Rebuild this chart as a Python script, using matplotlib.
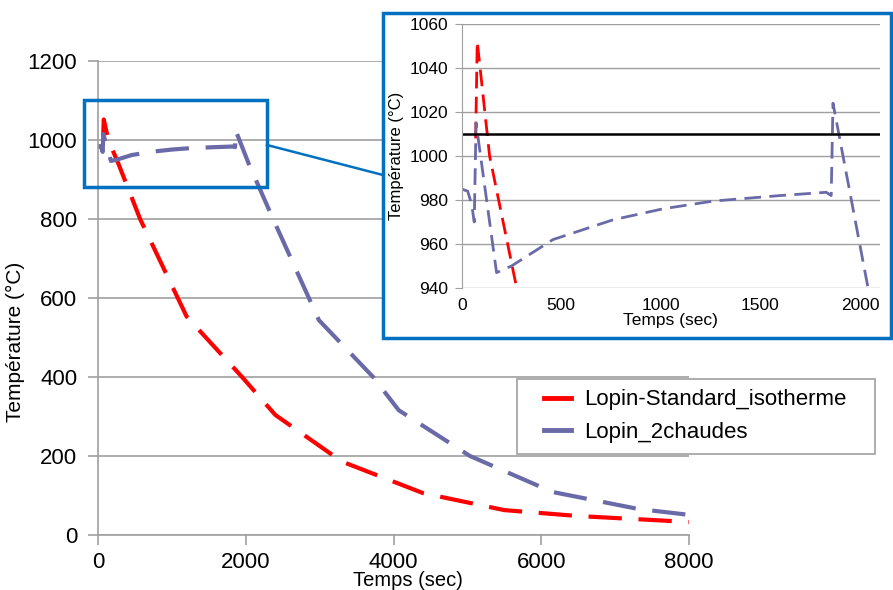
import numpy as np
import matplotlib.pyplot as plt
from matplotlib.patches import Rectangle
from matplotlib.lines import Line2D

plt.rcParams['font.family'] = ['Liberation Sans', 'DejaVu Sans']

# Lopin-Standard_isotherme (time in s, temperature in degC)
t_std = [70, 78, 140, 276, 570, 1200, 1950, 2400, 3300, 4400, 5500, 6500, 8000]
T_std = [1008, 1052, 1000, 940, 800, 553, 400, 304, 186, 106, 63, 48, 33]

# Lopin_2chaudes
t_2ch = [0, 30, 50, 63, 72, 175, 250, 458, 760, 1011, 1262, 1596, 1830, 1855,
         1864, 2040, 2370, 2990, 3724, 4070, 5035, 6150, 7310, 8000]
T_2ch = [985, 984, 978, 970, 1015, 947, 950, 962, 971, 976, 979.5, 982, 983.5, 982,
         1024, 940, 800, 544, 400, 316, 200, 109, 66, 51]

threshold = 1010
names = ['Lopin-Standard_isotherme', 'Lopin_2chaudes']

red = '#FF0000'
purple = '#6A6AA8'
blue = '#0070C0'
grey = '#A0A0A0'

fig = plt.figure(figsize=(8.93, 5.90), dpi=100)

# main chart
ax = fig.add_axes([98/893, 1-535/590, 591/893, 474/590])
ax.plot(t_std, T_std, color=red, lw=3, dashes=(8, 4))
ax.plot(t_2ch, T_2ch, color=purple, lw=3, dashes=(8, 4))
ax.set_xlim(0, 8000)
ax.set_ylim(0, 1200)
ax.set_xticks([0, 2000, 4000, 6000, 8000])
ax.set_yticks(range(0, 1201, 200))
ax.yaxis.grid(True, color=grey, lw=1.2)
ax.set_axisbelow(True)
for s in ['top', 'right']:
    ax.spines[s].set_visible(False)
for s in ['left', 'bottom']:
    ax.spines[s].set_color(grey)
    ax.spines[s].set_linewidth(1.2)
ax.tick_params(axis='both', colors=grey, labelcolor='black', labelsize=16, length=7, width=1.2)
ax.tick_params(axis='y', pad=8)
ax.tick_params(axis='x', pad=5)
ax.set_xlabel('Temps (sec)', fontsize=14.5)
ax.set_ylabel('Température (°C)', fontsize=15)
ax.xaxis.set_label_coords((408-98)/591, -(571-535)/474)
ax.yaxis.set_label_coords((25-98)/591, (535-342)/474)

# legend with its own frame, solid short handles
fig.add_artist(Rectangle((517/893, 1-454/590), 358/893, 75/590, facecolor='white',
                         edgecolor=grey, lw=1.2, zorder=2))
handles = [Line2D([], [], color=red, lw=3.5), Line2D([], [], color=purple, lw=3.5)]
leg = fig.legend(handles, names, loc='center left',
                 bbox_to_anchor=(544/893, 1-416/590), fontsize=16, frameon=False,
                 handlelength=1.2, borderpad=0, labelspacing=0.5, borderaxespad=0,
                 handletextpad=0.6)
leg.set_zorder(6)

# zoom rectangle on main chart
ax.add_patch(Rectangle((-190, 880), 2480, 220, fill=False, ec=blue, lw=2.5, clip_on=False, zorder=5))
fig.add_artist(Line2D([267/893, 383/893], [1-145/590, 1-175/590], color=blue, lw=1.8))

# inset frame
fig.add_artist(Rectangle((383/893, 1-338/590), 508/893, 325/590, facecolor='white',
                         edgecolor=blue, lw=2.5, zorder=3))

# inset chart
axi = fig.add_axes([461.7/893, 1-288/590, 418.3/893, 264/590], zorder=4)
axi.plot(t_std, T_std, color=red, lw=2, dashes=(6, 3))
axi.plot(t_2ch, T_2ch, color=purple, lw=2, dashes=(6, 3))
axi.axhline(threshold, color='black', lw=1.8)
axi.set_xlim(0, 2100)
axi.set_ylim(940, 1060)
axi.set_xticks([0, 500, 1000, 1500, 2000])
axi.set_yticks(range(940, 1061, 20))
axi.yaxis.grid(True, color=grey, lw=1)
axi.set_axisbelow(True)
for s in ['top', 'right', 'bottom']:
    axi.spines[s].set_visible(False)
axi.spines['left'].set_color(grey)
axi.tick_params(axis='y', colors=grey, labelcolor='black', labelsize=12.5, length=5, pad=5)
axi.tick_params(axis='x', length=0, labelsize=12.5, pad=7)
axi.set_xlabel('Temps (sec)', fontsize=12.5, labelpad=0)
axi.set_ylabel('Température (°C)', fontsize=12, labelpad=4)

fig.savefig('out.png', dpi=100)
